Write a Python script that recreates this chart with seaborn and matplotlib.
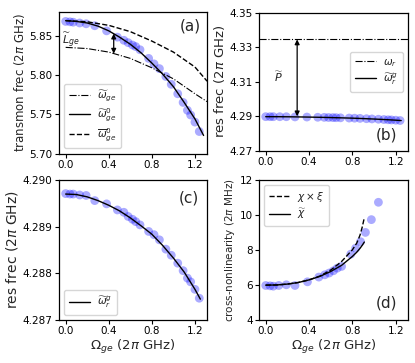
import numpy as np
import pandas as pd
import matplotlib
matplotlib.use("Agg")
import matplotlib.pyplot as plt
import seaborn as sns

# measured points (shared drive amplitudes)
omega_pts = [0.00, 0.04, 0.07, 0.13, 0.19, 0.27, 0.38, 0.48, 0.54, 0.58, 0.62, 0.65,
             0.69, 0.77, 0.82, 0.87, 0.93, 0.98, 1.04, 1.09, 1.13, 1.16, 1.20, 1.24]
transmon_pts = [5.868, 5.8675, 5.867, 5.866, 5.865, 5.8625, 5.856, 5.848, 5.844, 5.841,
                5.838, 5.836, 5.832, 5.821, 5.814, 5.808, 5.798, 5.788, 5.776, 5.765,
                5.755, 5.749, 5.740, 5.728]
res_pts = [4.28971, 4.28970, 4.28970, 4.28968, 4.28967, 4.28956, 4.28949, 4.28936,
           4.28931, 4.28922, 4.28916, 4.28911, 4.28904, 4.28890, 4.28883, 4.28872,
           4.28852, 4.28839, 4.28822, 4.28806, 4.28790, 4.28782, 4.28766, 4.28747]
omega_chi = [0.00, 0.04, 0.07, 0.12, 0.19, 0.27, 0.385, 0.49, 0.545, 0.585, 0.625,
             0.66, 0.70, 0.785, 0.83, 0.875, 0.92, 0.975, 1.04]
chi_pts = [5.98, 5.96, 5.94, 5.98, 6.02, 5.98, 6.19, 6.46, 6.59, 6.69, 6.82, 6.97,
           7.07, 7.77, 8.11, 8.48, 9.01, 9.74, 10.73]

# theory curves
omega_a = [0.0, 0.1, 0.2, 0.3, 0.4, 0.5, 0.6, 0.7, 0.8, 0.9, 1.0, 1.1, 1.2, 1.28]
w_ge0_tilde = [5.869, 5.868, 5.866, 5.862, 5.856, 5.848, 5.839, 5.828, 5.815, 5.801,
               5.785, 5.765, 5.744, 5.723]
omega_a2 = [0.0, 0.2, 0.4, 0.6, 0.8, 1.0, 1.2, 1.3125]
w_ge0_bar = [5.869, 5.8675, 5.863, 5.855, 5.843, 5.829, 5.810, 5.792]
w_ge_tilde = [5.835, 5.8335, 5.829, 5.821, 5.809, 5.795, 5.776, 5.766]

omega_r = [0.0, 0.1, 0.2, 0.3, 0.4, 0.5, 0.6, 0.7, 0.8, 0.9, 1.0, 1.1, 1.2, 1.25]
w_rg_tilde = [4.28970, 4.28969, 4.28964, 4.28956, 4.28946, 4.28934, 4.28919, 4.28902,
              4.28884, 4.28860, 4.28833, 4.28803, 4.28766, 4.28745]
w_r_bare = 4.335

omega_d = [0.0, 0.1, 0.2, 0.3, 0.4, 0.5, 0.6, 0.7, 0.8, 0.84, 0.87, 0.89, 0.91]
chi_xi = [6.0, 6.01, 6.06, 6.15, 6.30, 6.52, 6.86, 7.35, 8.02, 8.4, 8.85, 9.3, 9.85]
chi_tilde = [6.0, 6.01, 6.06, 6.15, 6.30, 6.50, 6.78, 7.13, 7.64, 7.88, 8.10, 8.27, 8.46]

sns.set_style("ticks")
plt.rcParams['font.family'] = ['DejaVu Sans']
plt.rcParams['mathtext.fontset'] = 'dejavusans'

fig = plt.figure(figsize=(4.15, 3.63), dpi=100)
ax_a = fig.add_axes([0.142, 0.577, 0.357, 0.390])
ax_b = fig.add_axes([0.624, 0.585, 0.359, 0.380])
ax_c = fig.add_axes([0.142, 0.118, 0.357, 0.386])
ax_d = fig.add_axes([0.624, 0.118, 0.359, 0.386])

pt_kw = dict(color='blue', alpha=0.33, s=40, edgecolor='none', zorder=1)
xticks = [0.0, 0.4, 0.8, 1.2]
arrow_kw = dict(arrowstyle='<|-|>', color='black', lw=0.9, mutation_scale=7,
                shrinkA=0, shrinkB=0)
leg_kw = dict(fontsize=7.5, labelspacing=0.25, handlelength=2.0, handletextpad=0.7,
              borderpad=0.45)

# (a) transmon frequency
sns.scatterplot(x=omega_pts, y=transmon_pts, ax=ax_a, **pt_kw)
sns.lineplot(x=omega_a2, y=w_ge_tilde, ax=ax_a, color='black', lw=0.8, linestyle='-.',
             label=r'$\widetilde{\omega}_{ge}$')
sns.lineplot(x=omega_a, y=w_ge0_tilde, ax=ax_a, color='black', lw=1.0,
             label=r'$\widetilde{\omega}_{ge}^{0}$')
sns.lineplot(x=omega_a2, y=w_ge0_bar, ax=ax_a, color='black', lw=1.0, linestyle='--',
             label=r'$\overline{\omega}_{ge}^{0}$')
ax_a.annotate('', xy=(0.446, 5.8525), xytext=(0.446, 5.827), arrowprops=arrow_kw)
ax_a.text(-0.035, 5.8435, r'$\widetilde{L}_{ge}$', fontsize=8, va='center')
ax_a.set_ylim(5.70, 5.88)
ax_a.set_yticks([5.70, 5.75, 5.80, 5.85])
ax_a.set_yticklabels(['5.70', '5.75', '5.80', '5.85'])
ax_a.set_ylabel('transmon frec (2$\\pi$ GHz)', fontsize=8.5, labelpad=2)
ax_a.legend(loc='lower left', **leg_kw)
ax_a.text(0.885, 0.9, '(a)', transform=ax_a.transAxes, fontsize=11, ha='center', va='center')

# (b) resonator frequency, wide range
sns.scatterplot(x=omega_pts, y=res_pts, ax=ax_b, **pt_kw)
ax_b.axhline(w_r_bare, color='black', lw=0.8, linestyle='-.', label=r'$\omega_r$')
sns.lineplot(x=omega_r, y=w_rg_tilde, ax=ax_b, color='black', lw=1.0,
             label=r'$\widetilde{\omega}_{r}^{g}$')
ax_b.annotate('', xy=(0.29, 4.3345), xytext=(0.29, 4.2899), arrowprops=arrow_kw)
ax_b.text(0.12, 4.313, r'$\widetilde{P}$', fontsize=8, ha='center', va='center')
ax_b.set_ylim(4.27, 4.35)
ax_b.set_yticks([4.27, 4.29, 4.31, 4.33, 4.35])
ax_b.set_yticklabels(['4.27', '4.29', '4.31', '4.33', '4.35'])
ax_b.set_ylabel('res frec (2$\\pi$ GHz)', fontsize=9.5, labelpad=2)
ax_b.legend(loc='center right', bbox_to_anchor=(1.0, 0.57), **leg_kw)
ax_b.text(0.857, 0.116, '(b)', transform=ax_b.transAxes, fontsize=11, ha='center', va='center')

# (c) resonator frequency, zoom
sns.scatterplot(x=omega_pts, y=res_pts, ax=ax_c, **pt_kw)
sns.lineplot(x=omega_r, y=w_rg_tilde, ax=ax_c, color='black', lw=1.0,
             label=r'$\widetilde{\omega}_{r}^{g}$')
ax_c.set_ylim(4.287, 4.290)
ax_c.set_yticks([4.287, 4.288, 4.289, 4.290])
ax_c.set_yticklabels(['4.287', '4.288', '4.289', '4.290'])
ax_c.set_ylabel('res frec (2$\\pi$ GHz)', fontsize=10, labelpad=2)
ax_c.legend(loc='lower left', **leg_kw)
ax_c.text(0.874, 0.87, '(c)', transform=ax_c.transAxes, fontsize=11, ha='center', va='center')

# (d) cross-nonlinearity
sns.scatterplot(x=omega_chi, y=chi_pts, ax=ax_d, **pt_kw)
sns.lineplot(x=omega_d, y=chi_xi, ax=ax_d, color='black', lw=1.0, linestyle='--',
             label=r'$\chi\times\xi$')
sns.lineplot(x=omega_d, y=chi_tilde, ax=ax_d, color='black', lw=1.0,
             label=r'$\widetilde{\chi}$')
ax_d.set_ylim(4, 12)
ax_d.set_yticks([4, 6, 8, 10, 12])
ax_d.set_ylabel('cross-nonlinearity (2$\\pi$ MHz)', fontsize=7.5, labelpad=2)
ax_d.legend(loc='upper left', **leg_kw)
ax_d.text(0.857, 0.126, '(d)', transform=ax_d.transAxes, fontsize=11, ha='center', va='center')

for ax in [ax_a, ax_b, ax_c, ax_d]:
    ax.set_xlim(-0.0625, 1.3125)
    ax.set_xticks(xticks)
    ax.set_xticklabels(['0.0', '0.4', '0.8', '1.2'])
    ax.tick_params(labelsize=7.5, length=3, width=0.8, pad=1.5, colors='black')
    for s in ax.spines.values():
        s.set_color('black')
        s.set_linewidth(0.9)
for ax in [ax_c, ax_d]:
    ax.set_xlabel(r'$\Omega_{ge}$ (2$\pi$ GHz)', fontsize=9.5, labelpad=1)

fig.savefig('out.png', dpi=100)
